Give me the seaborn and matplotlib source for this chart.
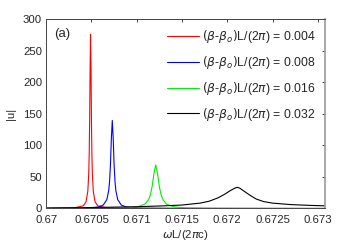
import matplotlib
matplotlib.use("Agg")
import matplotlib.pyplot as plt
import seaborn as sns
import pandas as pd

sns.set_style("white")
plt.rcParams['font.family'] = ['Liberation Sans', 'DejaVu Sans']
plt.rcParams['mathtext.fontset'] = 'dejavusans'

labels = [r'$(\beta$-$\beta_{o})$L/(2$\pi$) = 0.004',
          r'$(\beta$-$\beta_{o})$L/(2$\pi$) = 0.008',
          r'$(\beta$-$\beta_{o})$L/(2$\pi$) = 0.016',
          r'$(\beta$-$\beta_{o})$L/(2$\pi$) = 0.032']
colors = ['#ff0000', '#0000ff', '#00ee00', '#000000']

red_x = [0.67000, 0.67030, 0.67041, 0.67044, 0.67046, 0.67047, 0.670475, 0.67048, 0.670485,
         0.67049, 0.670495, 0.67050, 0.670505, 0.67051, 0.67052, 0.67054, 0.67057, 0.67068,
         0.67100, 0.67308]
red_y = [0.12, 0.76, 4.2, 10.6, 27.6, 55.2, 84.9, 138, 220.8,
         276, 220.8, 138, 84.9, 55.2, 27.6, 10.6, 4.2, 0.76,
         0.1, 0.01]

blue_x = [0.67000, 0.67043, 0.67057, 0.67063, 0.67067, 0.67069, 0.67070, 0.67071, 0.67072,
          0.67073, 0.67074, 0.67075, 0.67076, 0.67077, 0.67079, 0.67083, 0.67089, 0.67103,
          0.67150, 0.67308]
blue_y = [0.1, 0.62, 2.1, 5.4, 14, 27.9, 42.9, 69.8, 111.6,
          139.5, 111.6, 69.8, 42.9, 27.9, 14, 5.4, 2.1, 0.62,
          0.13, 0.02]

green_x = [0.67000, 0.67061, 0.67089, 0.67101, 0.67109, 0.67113, 0.67115, 0.67117, 0.67119,
           0.67121, 0.67123, 0.67125, 0.67127, 0.67129, 0.67133, 0.67141, 0.67153, 0.67181,
           0.67250, 0.67308]
green_y = [0.08, 0.31, 1.06, 2.65, 6.9, 13.8, 21.2, 34.5, 55.2,
           69, 55.2, 34.5, 21.2, 13.8, 6.9, 2.65, 1.06, 0.31,
           0.07, 0.03]

black_x = [0.67000, 0.67050, 0.67100, 0.67130, 0.67150, 0.67170, 0.67180, 0.67190, 0.67197,
           0.67203, 0.67208, 0.67211, 0.67214, 0.67219, 0.67225, 0.67232, 0.67240, 0.67250,
           0.67270, 0.67290, 0.67308]
black_y = [0.8, 1.5, 2.8, 4.2, 5.5, 8.5, 11.5, 17, 22.5,
           28, 32, 33.6, 32, 27, 21, 15, 11, 8.5,
           6.2, 5.0, 4.2]

xticks = [0.67, 0.6705, 0.671, 0.6715, 0.672, 0.6725, 0.673]
xtick_labels = ['0.67', '0.6705', '0.671', '0.6715', '0.672', '0.6725', '0.673']
yticks = [0, 50, 100, 150, 200, 250, 300]

frames = []
for lab, xs, ys in zip(labels, [red_x, blue_x, green_x, black_x],
                       [red_y, blue_y, green_y, black_y]):
    frames.append(pd.DataFrame({'x': xs, 'y': ys, 'series': lab}))
df = pd.concat(frames, ignore_index=True)

fig = plt.figure(figsize=(3.58, 2.45), dpi=100)
ax = fig.add_axes([0.129, 0.149, 0.779, 0.773])
sns.lineplot(data=df, x='x', y='y', hue='series', palette=colors, hue_order=labels,
             estimator=None, sort=True, linewidth=0.8, ax=ax)

ax.set_xlim(0.67, 0.67308)
ax.set_ylim(0, 300)
ax.set_xticks(xticks)
ax.set_xticklabels(xtick_labels)
ax.set_yticks(yticks)
ax.tick_params(direction='in', length=2.5, width=0.6, labelsize=8.2, top=True, right=True,
               colors='#262626')
ax.tick_params(axis='x', pad=5)
ax.tick_params(axis='y', pad=3)
for s in ax.spines.values():
    s.set_visible(True)
    s.set_linewidth(0.7)
    s.set_color('#444444')
ax.spines['right'].set_color('#999999')
ax.spines['right'].set_linewidth(1.2)

ax.set_xlabel(r'$\omega$L/(2$\pi$c)', fontsize=8.2, labelpad=2)
ax.set_ylabel('|u|', fontsize=8.2, labelpad=5)
ax.text(0.03, 0.955, '(a)', transform=ax.transAxes, fontsize=9.5, va='top', ha='left')

leg = ax.legend(loc='upper right', frameon=False, fontsize=8.8, handlelength=2.6,
                handletextpad=0.25, labelspacing=0.72, borderaxespad=0.0, borderpad=0.2,
                bbox_to_anchor=(0.975, 0.965))
for line in leg.get_lines():
    line.set_linewidth(0.8)

fig.savefig('out.png', dpi=100)
